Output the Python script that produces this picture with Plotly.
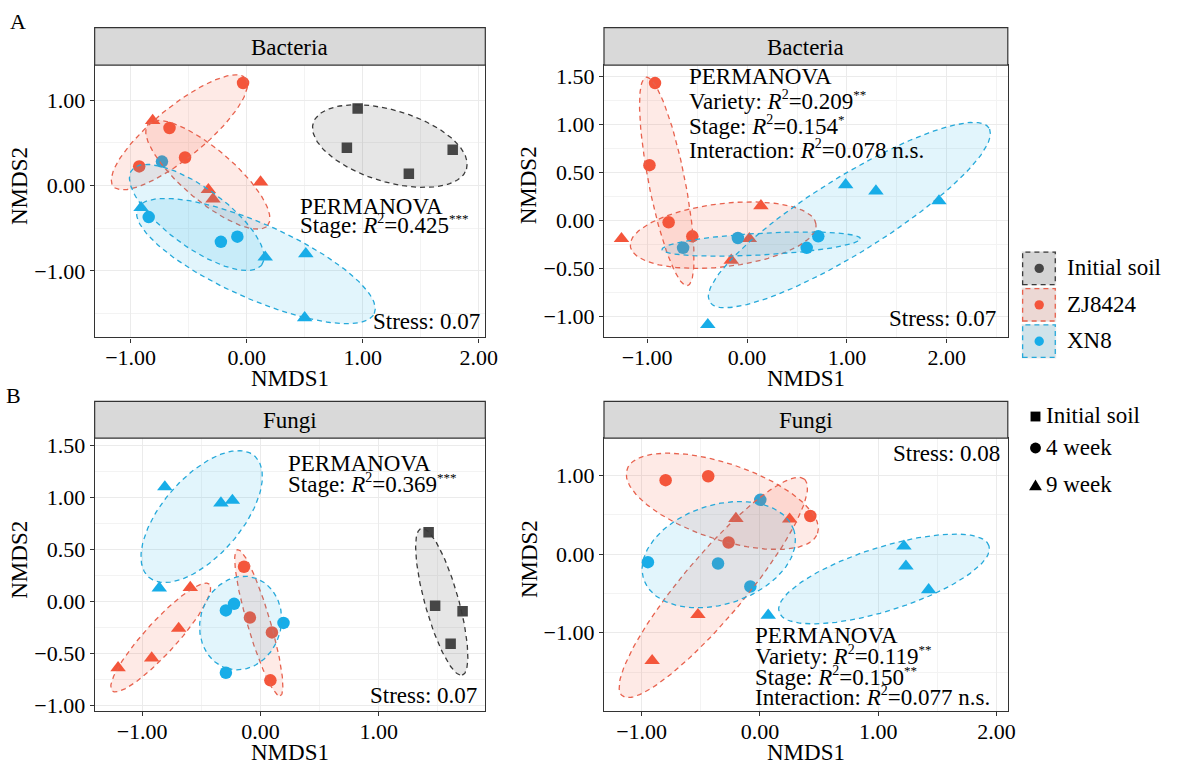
import numpy as np
import plotly.graph_objects as go

W, H = 1183, 774
FONT = "Liberation Serif"

# ---------------- data ----------------
panel_titles = ["Bacteria", "Bacteria", "Fungi", "Fungi"]
fill_legend_labels = ["Initial soil", "ZJ8424", "XN8"]
shape_legend_labels = ["Initial soil", "4 week", "9 week"]

# Panel A, left: Bacteria (Stage)
a1_init_x = [0.957, 0.864, 1.398, 1.776]
a1_init_y = [0.900, 0.442, 0.138, 0.419]
a1_zj4_x = [-0.926, -0.665, -0.531, -0.031]
a1_zj4_y = [0.223, 0.673, 0.327, 1.200]
a1_zj9_x = [-0.810, 0.120, -0.330, -0.290]
a1_zj9_y = [0.760, 0.040, -0.050, -0.160]
a1_xn4_x = [-0.730, -0.844, -0.222, -0.080]
a1_xn4_y = [0.280, -0.370, -0.660, -0.600]
a1_xn9_x = [-0.910, 0.160, 0.510, 0.500]
a1_xn9_y = [-0.260, -0.840, -0.800, -1.550]
# ellipses: [x_end1, y_end1, x_end2, y_end2, minor/major ratio]
a1_ell_init = [0.574, 0.731, 1.895, 0.192, 0.45]
a1_ell_zj4 = [-1.150, -0.010, -0.010, 1.255, 0.30]
a1_ell_zj9 = [-0.850, 0.720, 0.180, -0.470, 0.33]
a1_ell_xn4 = [-0.990, 0.180, 0.130, -0.930, 0.37]
a1_ell_xn9 = [-0.940, -0.270, 1.100, -1.500, 0.29]

# Panel A, right: Bacteria (Variety x Stage)
a2_zj4_x = [-0.921, -0.977, -0.785, -0.548]
a2_zj4_y = [1.432, 0.575, -0.021, -0.168]
a2_zj9_x = [-1.257, 0.139, 0.023, -0.158]
a2_zj9_y = [-0.192, 0.151, -0.192, -0.418]
a2_xn4_x = [-0.640, -0.092, 0.597, 0.713]
a2_xn4_y = [-0.288, -0.185, -0.288, -0.168]
a2_xn9_x = [0.987, 1.290, 1.921, -0.393]
a2_xn9_y = [0.370, 0.305, 0.202, -1.090]
a2_ell_zj4 = [-1.010, 1.493, -0.597, -0.682, 0.17]
a2_ell_zj9 = [-1.168, -0.270, 0.690, -0.041, 0.34]
a2_ell_xn4 = [-0.851, -0.305, 1.135, -0.192, 0.11]
a2_ell_xn9 = [-0.373, -0.853, 2.422, 0.962, 0.23]

# Panel B, left: Fungi (Stage)
b1_init_x = [1.421, 1.476, 1.708, 1.607]
b1_init_y = [0.665, -0.041, -0.094, -0.406]
b1_zj4_x = [-0.139, -0.089, 0.097, 0.084]
b1_zj4_y = [0.334, -0.154, -0.296, -0.756]
b1_zj9_x = [-1.203, -0.919, -0.691, -0.593]
b1_zj9_y = [-0.636, -0.542, -0.258, 0.135]
b1_xn4_x = [-0.292, -0.223, 0.195, -0.292]
b1_xn4_y = [-0.085, -0.022, -0.205, -0.683]
b1_xn9_x = [-0.808, -0.334, -0.237, -0.855]
b1_xn9_y = [1.100, 0.945, 0.970, 0.129]
b1_ell_init = [1.359, 0.702, 1.705, -0.706, 0.22]
b1_ell_zj4 = [-0.195, 0.498, 0.167, -0.904, 0.15]
b1_ell_zj9 = [-1.253, -0.857, -0.432, 0.167, 0.22]
b1_ell_xn4 = [-0.056, 0.230, -0.279, -0.643, 0.85]
b1_ell_xn9 = [-0.050, 1.398, -0.943, 0.233, 0.49]

# Panel B, right: Fungi (Variety x Stage)
b2_zj4_x = [-0.797, -0.437, -0.265, 0.426]
b2_zj4_y = [0.938, 0.988, 0.146, 0.483]
b2_zj9_x = [-0.203, 0.251, -0.524, -0.911]
b2_zj9_y = [0.450, 0.442, -0.771, -1.354]
b2_xn4_x = [-0.947, -0.354, 0.003, -0.081]
b2_xn4_y = [-0.104, -0.121, 0.688, -0.413]
b2_xn9_x = [1.217, 1.234, 1.426, 0.070]
b2_xn9_y = [0.100, -0.154, -0.454, -0.779]
b2_ell_zj4 = [-1.123, 1.075, 0.487, 0.263, 0.38]
b2_ell_zj9 = [-1.164, -1.800, 0.376, 0.950, 0.22]
b2_ell_xn4 = [-0.983, -0.321, 0.287, 0.304, 0.63]
b2_ell_xn9 = [0.162, -0.738, 1.936, 0.104, 0.29]

# text
R2 = "<i>R</i><sup><span style='font-size:14px'>2</span></sup>"


def stars(s):
    return "<sup><span style='font-size:13px'>" + s + "</span></sup>"


a1_perm = ["PERMANOVA", "Stage: " + R2 + "=0.425" + stars("***")]
a2_perm = ["PERMANOVA", "Variety: " + R2 + "=0.209" + stars("**"),
           "Stage: " + R2 + "=0.154" + stars("*"),
           "Interaction: " + R2 + "=0.078 n.s."]
b1_perm = ["PERMANOVA", "Stage: " + R2 + "=0.369" + stars("***")]
b2_perm = ["PERMANOVA", "Variety: " + R2 + "=0.119" + stars("**"),
           "Stage: " + R2 + "=0.150" + stars("**"),
           "Interaction: " + R2 + "=0.077 n.s."]
stress_text = ["Stress: 0.07", "Stress: 0.07", "Stress: 0.07", "Stress: 0.08"]

# ---------------- styles / layout ----------------
COL = {"init": "#454545", "zj": "#F4553B", "xn": "#17ADE8"}
LINE = {"init": "#3A3A3A", "zj": "#E8624E", "xn": "#26A9DA"}
FILL = {"init": "rgba(80,80,80,0.14)", "zj": "rgba(244,90,62,0.13)", "xn": "rgba(30,175,232,0.13)"}
SYM = {"init": "square", "4": "circle", "9": "triangle-up"}
SIZE = {"init": 10.5, "4": 12.5, "9": 13.5}

# panel boxes in px: x0, x1, plot top, plot bottom, strip top
BOX = [(95.7, 490.7, 61, 337.7, 23),
       (610.7, 1019, 61, 337.7, 23),
       (95.7, 490.7, 440, 717.3, 402.7),
       (610.7, 1019, 440, 717.3, 402.7)]
XR = [(-1.31, 2.057), (-1.432, 2.61), (-1.401, 1.90), (-1.318, 2.095)]
YR = [(-1.78, 1.41), (-1.223, 1.62), (-1.052, 1.568), (-1.996, 1.471)]
XT = [[-1, 0, 1, 2], [-1, 0, 1, 2], [-1, 0, 1], [-1, 0, 1, 2]]
YT = [[-1, 0, 1], [-1, -0.5, 0, 0.5, 1, 1.5], [-1, -0.5, 0, 0.5, 1, 1.5], [-1, 0, 1]]
YMINOR = [0.5, 0.25, 0.25, 0.5]

panels = [
    [("init", "init", a1_init_x, a1_init_y, a1_ell_init),
     ("zj", "4", a1_zj4_x, a1_zj4_y, a1_ell_zj4),
     ("zj", "9", a1_zj9_x, a1_zj9_y, a1_ell_zj9),
     ("xn", "4", a1_xn4_x, a1_xn4_y, a1_ell_xn4),
     ("xn", "9", a1_xn9_x, a1_xn9_y, a1_ell_xn9)],
    [("zj", "4", a2_zj4_x, a2_zj4_y, a2_ell_zj4),
     ("zj", "9", a2_zj9_x, a2_zj9_y, a2_ell_zj9),
     ("xn", "4", a2_xn4_x, a2_xn4_y, a2_ell_xn4),
     ("xn", "9", a2_xn9_x, a2_xn9_y, a2_ell_xn9)],
    [("init", "init", b1_init_x, b1_init_y, b1_ell_init),
     ("zj", "4", b1_zj4_x, b1_zj4_y, b1_ell_zj4),
     ("zj", "9", b1_zj9_x, b1_zj9_y, b1_ell_zj9),
     ("xn", "4", b1_xn4_x, b1_xn4_y, b1_ell_xn4),
     ("xn", "9", b1_xn9_x, b1_xn9_y, b1_ell_xn9)],
    [("zj", "4", b2_zj4_x, b2_zj4_y, b2_ell_zj4),
     ("zj", "9", b2_zj9_x, b2_zj9_y, b2_ell_zj9),
     ("xn", "4", b2_xn4_x, b2_xn4_y, b2_ell_xn4),
     ("xn", "9", b2_xn9_x, b2_xn9_y, b2_ell_xn9)],
]
perm_texts = [a1_perm, a2_perm, b1_perm, b2_perm]
# PERMANOVA block: left x px, first line centre y px, line step px
PERM_POS = [(301, 205, 17.5), (695, 73, 24.5), (289, 466, 20), (761, 640, 20.8)]
# stress: right x px, centre y px
STRESS_POS = [(487, 321), (1009, 318), (484, 701), (1013, 456)]


def px(x):
    return x / W


def py(y):
    return 1 - y / H


def ellipse(e, sx, sy, n=160):
    x1, y1, x2, y2, r = e
    cx, cy = (x1 + x2) / 2, (y1 + y2) / 2
    ux, uy = (x2 - x1) / 2, (y2 - y1) / 2
    vx, vy = -r * uy * sy / sx, r * ux * sx / sy
    t = np.linspace(0, 2 * np.pi, n)
    return cx + ux * np.cos(t) + vx * np.sin(t), cy + uy * np.cos(t) + vy * np.sin(t)


def ann(text, x, y, xa="left", ya="middle", size=22, angle=0):
    return dict(text=text, x=px(x), y=py(y), xref="paper", yref="paper",
                xanchor=xa, yanchor=ya, showarrow=False, textangle=angle,
                font=dict(family=FONT, size=size, color="black"))


fig = go.Figure()
layout = dict(width=W, height=H, margin=dict(l=0, r=0, t=0, b=0),
              paper_bgcolor="white", plot_bgcolor="white", showlegend=False,
              font=dict(family=FONT, size=22, color="black"))
shapes, annotations = [], []

for i, groups in enumerate(panels):
    x0, x1, yt, yb, st = BOX[i]
    sx = (x1 - x0) / (XR[i][1] - XR[i][0])
    sy = (yb - yt) / (YR[i][1] - YR[i][0])
    xa = "x" if i == 0 else f"x{i + 1}"
    ya = "y" if i == 0 else f"y{i + 1}"
    # points first
    for var, stg, gx, gy, e in groups:
        fig.add_trace(go.Scatter(x=gx, y=gy, mode="markers", xaxis=xa, yaxis=ya,
                                 marker=dict(symbol=SYM[stg], size=SIZE[stg], color=COL[var],
                                             line=dict(width=0)),
                                 hoverinfo="skip"))
    # ellipses on top
    for var, stg, gx, gy, e in groups:
        ex, ey = ellipse(e, sx, sy)
        fig.add_trace(go.Scatter(x=ex, y=ey, mode="lines", xaxis=xa, yaxis=ya,
                                 fill="toself", fillcolor=FILL[var],
                                 line=dict(color=LINE[var], width=1.3, dash="5px,4px"),
                                 hoverinfo="skip"))
    axcommon = dict(showline=True, mirror=True, linecolor="#333333", linewidth=1.2,
                    ticks="outside", ticklen=4, tickwidth=1.1, tickcolor="#333333",
                    tickformat=".2f", zeroline=False, showgrid=True,
                    gridcolor="#EBEBEB", gridwidth=1,
                    tickfont=dict(family=FONT, size=22, color="black"))
    layout["xaxis" if i == 0 else f"xaxis{i + 1}"] = dict(
        axcommon, domain=[px(x0), px(x1)], range=list(XR[i]), tickvals=XT[i],
        anchor=ya, ticklabelstandoff=-4,
        minor=dict(dtick=0.5, tick0=0, showgrid=True, gridcolor="#F3F3F3", gridwidth=0.7))
    layout["yaxis" if i == 0 else f"yaxis{i + 1}"] = dict(
        axcommon, domain=[py(yb), py(yt)], range=list(YR[i]), tickvals=YT[i],
        anchor=xa,
        minor=dict(dtick=YMINOR[i], tick0=0, showgrid=True, gridcolor="#F3F3F3", gridwidth=0.7))
    # strip
    shapes.append(dict(type="rect", xref="paper", yref="paper", x0=px(x0), x1=px(x1),
                       y0=py(yt), y1=py(st), fillcolor="#D9D9D9",
                       line=dict(color="#333333", width=1.2), layer="above"))
    annotations.append(ann(panel_titles[i], (x0 + x1) / 2, (st + yt) / 2 + 1, xa="center", size=23))
    # axis titles
    annotations.append(ann("NMDS1", (x0 + x1) / 2, yb + 42, xa="center", size=23))
    annotations.append(ann("NMDS2", x0 - 76, (st + yb) / 2 + 3, xa="center", size=23, angle=-90))
    # permanova text
    lx, ly, step = PERM_POS[i]
    for k, line in enumerate(perm_texts[i]):
        annotations.append(ann(line, lx, ly + k * step, size=23))
    sxp, syp = STRESS_POS[i]
    annotations.append(ann(stress_text[i], sxp, syp, xa="right", size=23))

# panel letters
annotations.append(ann("A", 18, 17, xa="center", size=22))
annotations.append(ann("B", 14, 397, xa="center", size=22))

# fill legend (ellipse keys)
key_cols = ["init", "zj", "xn"]
key_tops = [250, 287, 324]
for lab, var, top in zip(fill_legend_labels, key_cols, key_tops):
    shapes.append(dict(type="rect", xref="paper", yref="paper", x0=px(1033), x1=px(1068),
                       y0=py(top + 35), y1=py(top), fillcolor="#EBEBEB", line=dict(width=0)))
    shapes.append(dict(type="rect", xref="paper", yref="paper", x0=px(1034), x1=px(1067),
                       y0=py(top + 34), y1=py(top + 1), fillcolor=FILL[var],
                       line=dict(color=LINE[var], width=1.3, dash="5px,4px")))
    shapes.append(dict(type="circle", xref="paper", yref="paper", x0=px(1046), x1=px(1055.5),
                       y0=py(top + 22.3), y1=py(top + 12.8), fillcolor=COL[var],
                       line=dict(width=0)))
    annotations.append(ann(lab, 1077, top + 17, size=23))

# shape legend
sh_y = [418, 450, 488]
shapes.append(dict(type="rect", xref="paper", yref="paper", x0=px(1042), x1=px(1052),
                   y0=py(sh_y[0] + 5), y1=py(sh_y[0] - 5), fillcolor="black", line=dict(width=0)))
shapes.append(dict(type="circle", xref="paper", yref="paper", x0=px(1041.5), x1=px(1052.5),
                   y0=py(sh_y[1] + 5.5), y1=py(sh_y[1] - 5.5), fillcolor="black", line=dict(width=0)))
tri = "M {} {} L {} {} L {} {} Z".format(px(1040.5), py(sh_y[2] + 5), px(1053.5), py(sh_y[2] + 5),
                                          px(1047), py(sh_y[2] - 6))
shapes.append(dict(type="path", xref="paper", yref="paper", path=tri, fillcolor="black",
                   line=dict(width=0)))
for lab, yy in zip(shape_legend_labels, sh_y):
    annotations.append(ann(lab, 1056, yy - 1, size=23))

layout["shapes"] = shapes
layout["annotations"] = annotations
fig.update_layout(**layout)
fig.write_html("out.html",
               post_script="document.body.style.margin='0';document.body.style.overflow='hidden';")
